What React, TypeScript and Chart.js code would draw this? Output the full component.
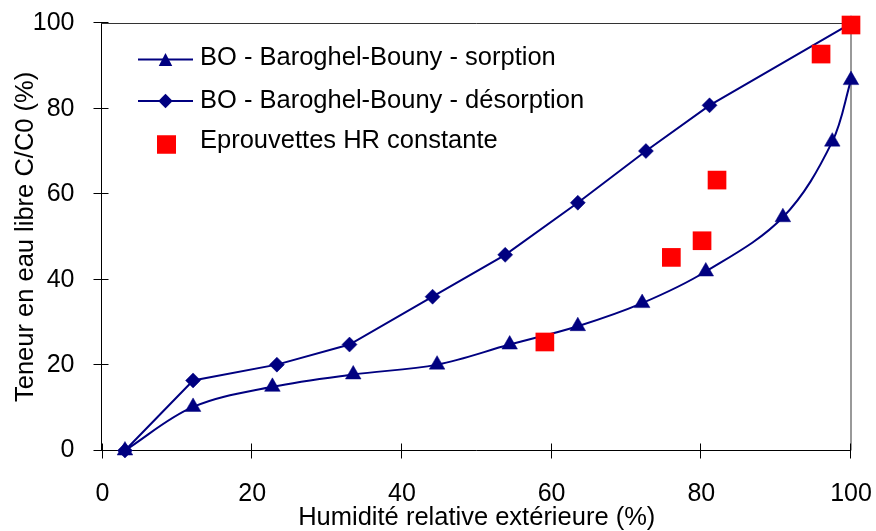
import { useEffect, useRef } from "react";
import { Chart, registerables } from "chart.js";

Chart.register(...registerables);

// Sorption isotherm (Baroghel-Bouny), relative humidity (%) vs free water content C/C0 (%)
const humiditySorption = [3, 12.1, 22.7, 33.5, 44.7, 54.4, 63.5, 72.1, 80.6, 90.9, 97.5, 100];
const contentSorption = [0, 10.2, 14.9, 17.8, 20.1, 24.8, 29.1, 34.5, 41.9, 54.6, 72.3, 86.7];

// Desorption isotherm
const humidityDesorption = [3, 12.1, 23.3, 33.0, 44.1, 53.8, 63.5, 72.6, 81.1, 100];
const contentDesorption = [0, 16.4, 20.1, 24.8, 36.0, 45.8, 58.0, 70.1, 80.8, 100];

// Specimens kept at constant relative humidity
const humiditySpecimens = [59.1, 76.0, 80.1, 82.1, 96.0, 100];
const contentSpecimens = [25.4, 45.2, 49.1, 63.3, 92.8, 99.6];

const xTicks = [0, 20, 40, 60, 80, 100];
const yTicks = [0, 20, 40, 60, 80, 100];

const seriesLabels = [
  "BO - Baroghel-Bouny - sorption",
  "BO - Baroghel-Bouny - désorption",
  "Eprouvettes HR constante",
];
const xTitle = "Humidité relative extérieure (%)";
const yTitle = "Teneur en eau libre C/C0 (%)";

const NAVY = "#000080";
const RED = "#FF0000";
const FONT = "'Liberation Sans', Arial, sans-serif";

const toPoints = (xs: number[], ys: number[]) => xs.map((x, i) => ({ x, y: ys[i] }));

// Triangle whose bounding box is centred on (x, y)
function triangle(ctx: CanvasRenderingContext2D, x: number, y: number, w: number, h: number) {
  ctx.beginPath();
  ctx.moveTo(x, y - h / 2);
  ctx.lineTo(x + w / 2, y + h / 2);
  ctx.lineTo(x - w / 2, y + h / 2);
  ctx.closePath();
  ctx.fill();
}

function diamond(ctx: CanvasRenderingContext2D, x: number, y: number, r: number) {
  ctx.beginPath();
  ctx.moveTo(x, y - r);
  ctx.lineTo(x + r, y);
  ctx.lineTo(x, y + r);
  ctx.lineTo(x - r, y);
  ctx.closePath();
  ctx.fill();
}

// Frame with tick marks crossing the axes
const framePlugin = {
  id: "frame",
  beforeDatasetsDraw(chart: any) {
    const { ctx, chartArea } = chart;
    const { left, right, top, bottom } = chartArea;
    const xs = chart.scales.x;
    const ys = chart.scales.y;
    const L = Math.floor(left) - 0.5;
    const B = Math.round(bottom) - 0.5;
    ctx.save();
    ctx.lineWidth = 1;
    ctx.strokeStyle = "#333";
    ctx.beginPath();
    ctx.moveTo(L, Math.round(top) + 0.5);
    ctx.lineTo(right, Math.round(top) + 0.5);
    ctx.stroke();
    ctx.strokeStyle = "#777";
    ctx.lineWidth = 1.5;
    ctx.beginPath();
    ctx.moveTo(right, top);
    ctx.lineTo(right, bottom);
    ctx.stroke();
    ctx.strokeStyle = "#000";
    ctx.lineWidth = 1;
    ctx.beginPath();
    ctx.moveTo(L, top);
    ctx.lineTo(L, B);
    ctx.lineTo(right, B);
    xTicks.forEach((v) => {
      const px = Math.round(xs.getPixelForValue(v)) - 0.5;
      ctx.moveTo(px, B - 7);
      ctx.lineTo(px, B + 8);
    });
    yTicks.forEach((v) => {
      const py = Math.round(ys.getPixelForValue(v)) - 0.5;
      ctx.moveTo(L - 8, py);
      ctx.lineTo(L + 7, py);
    });
    ctx.stroke();
    ctx.restore();
  },
};

// Legend drawn inside the plotting area
const legendPlugin = {
  id: "insideLegend",
  afterDatasetsDraw(chart: any) {
    const { ctx } = chart;
    const rows = [59.5, 101, 144.5];
    const baselines = [65, 108, 148];
    ctx.save();
    ctx.fillStyle = NAVY;
    ctx.strokeStyle = NAVY;
    ctx.lineWidth = 2;
    [0, 1].forEach((i) => {
      ctx.beginPath();
      ctx.moveTo(138, rows[i]);
      ctx.lineTo(193, rows[i]);
      ctx.stroke();
    });
    triangle(ctx, 165.5, rows[0], 13.5, 13);
    diamond(ctx, 165.5, rows[1], 7.2);
    ctx.fillStyle = RED;
    ctx.fillRect(157, rows[2] - 9.25, 19, 18.5);
    ctx.fillStyle = "#000";
    ctx.font = `25.5px ${FONT}`;
    ctx.textBaseline = "alphabetic";
    ctx.textAlign = "left";
    seriesLabels.forEach((t, i) => ctx.fillText(t, 200, baselines[i]));
    ctx.restore();
  },
};

const noPadding = (scale: any) => {
  scale.paddingTop = 0;
  scale.paddingBottom = 0;
  scale.paddingLeft = 0;
  scale.paddingRight = 0;
};

export default function App() {
  const canvasRef = useRef<HTMLCanvasElement | null>(null);

  useEffect(() => {
    const canvas = canvasRef.current;
    if (!canvas) return;
    const chart = new Chart(canvas, {
      type: "scatter",
      data: {
        datasets: [
          {
            label: seriesLabels[2],
            data: toPoints(humiditySpecimens, contentSpecimens),
            pointStyle: "rect",
            pointRadius: 13.2,
            pointBackgroundColor: RED,
            pointBorderColor: RED,
            pointBorderWidth: 0,
            showLine: false,
            clip: false as any,
            order: 0,
          },
          {
            label: seriesLabels[0],
            data: toPoints(humiditySorption, contentSorption),
            showLine: true,
            borderColor: NAVY,
            borderWidth: 2,
            tension: 0.35,
            pointStyle: "triangle",
            pointRadius: 9,
            pointBackgroundColor: NAVY,
            pointBorderColor: NAVY,
            pointBorderWidth: 0.5,
            clip: false as any,
            order: 1,
          },
          {
            label: seriesLabels[1],
            data: toPoints(humidityDesorption, contentDesorption),
            showLine: true,
            borderColor: NAVY,
            borderWidth: 2,
            tension: 0,
            pointStyle: "rectRot",
            pointRadius: 7.5,
            pointBackgroundColor: NAVY,
            pointBorderColor: NAVY,
            pointBorderWidth: 0.5,
            clip: false as any,
            order: 2,
          },
        ],
      },
      options: {
        responsive: false,
        animation: false,
        devicePixelRatio: 1,
        layout: { padding: { top: 23.3, right: 25, left: 0, bottom: 0 } },
        plugins: {
          legend: { display: false },
          tooltip: { enabled: false },
        },
        scales: {
          x: {
            type: "linear",
            min: 0,
            max: 100,
            afterBuildTicks: (scale: any) => {
              scale.ticks = xTicks.map((v) => ({ value: v }));
            },
            afterFit: (scale: any) => {
              scale.height = 80.5;
              noPadding(scale);
            },
            grid: { display: false },
            border: { display: false },
            ticks: {
              color: "#000",
              font: { family: FONT, size: 25 },
              padding: 21,
              maxRotation: 0,
            },
            title: {
              display: true,
              text: xTitle,
              color: "#000",
              font: { family: FONT, size: 25.5, lineHeight: 1 },
              padding: { top: 0, bottom: 0 },
            },
          },
          y: {
            type: "linear",
            min: 0,
            max: 100,
            afterBuildTicks: (scale: any) => {
              scale.ticks = yTicks.map((v) => ({ value: v }));
            },
            afterFit: (scale: any) => {
              scale.width = 102.5;
              noPadding(scale);
            },
            grid: { display: false },
            border: { display: false },
            ticks: {
              color: "#000",
              font: { family: FONT, size: 25 },
              padding: 20,
            },
            title: {
              display: true,
              text: yTitle,
              color: "#000",
              font: { family: FONT, size: 25.5, lineHeight: 1 },
              padding: { top: 13, bottom: 0 },
            },
          },
        },
      },
      plugins: [framePlugin, legendPlugin],
    });
    return () => chart.destroy();
  }, []);

  return (
    <div
      style={{
        position: "absolute",
        left: 0,
        top: 0,
        width: 876,
        height: 531,
        background: "#fff",
      }}
    >
      <canvas ref={canvasRef} width={876} height={531} style={{ display: "block" }} />
    </div>
  );
}
